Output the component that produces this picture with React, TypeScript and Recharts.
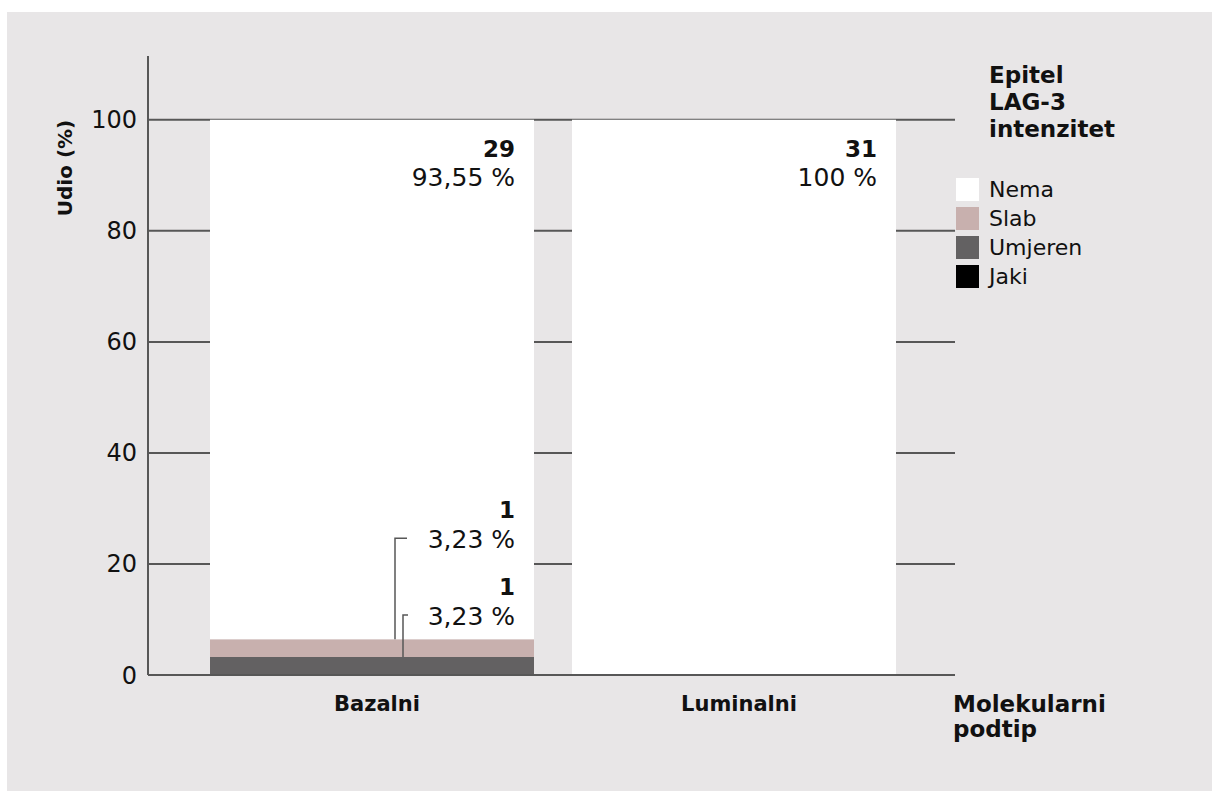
import React from 'react';
import { BarChart, Bar, XAxis, YAxis, CartesianGrid, LabelList } from 'recharts';

const categories = ['Bazalni', 'Luminalni'];
const jaki = [0, 0];
const umjeren = [3.23, 0];
const slab = [3.23, 0];
const nema = [93.55, 100];
const jakiCount = [0, 0];
const umjerenCount = [1, 0];
const slabCount = [1, 0];
const nemaCount = [29, 31];
const yTicks = [0, 20, 40, 60, 80, 100];
const legendTitle = ['Epitel', 'LAG-3', 'intenzitet'];
const xTitle = ['Molekularni', 'podtip'];
const seriesNames = ['Nema', 'Slab', 'Umjeren', 'Jaki'];
const seriesColors = ['#ffffff', '#c8b0ae', '#636162', '#000000'];

const data = categories.map((c, i) => ({
  name: c,
  Jaki: jaki[i],
  Umjeren: umjeren[i],
  Slab: slab[i],
  Nema: nema[i],
}));

const FONT = "'DejaVu Sans', sans-serif";
const INK = '#111111';
const AXIS = '#575757';

const fmtPct = (v: number) =>
  (Number.isInteger(v) ? String(v) : v.toFixed(2).replace('.', ',')) + ' %';

const NemaLabel = (props: any) => {
  const { x, y, width, index } = props;
  if (!nema[index]) return null;
  const rx = x + width - 19;
  return (
    <g>
      <text x={rx} y={y + 37} textAnchor="end" fontFamily={FONT} fontWeight={700} fontSize={23} fill={INK}>
        {nemaCount[index]}
      </text>
      <text x={rx} y={y + 66} textAnchor="end" fontFamily={FONT} fontSize={25} fill={INK}>
        {fmtPct(nema[index])}
      </text>
    </g>
  );
};

const SlabLabel = (props: any) => {
  const { x, y, width, index } = props;
  if (!slab[index]) return null;
  const rx = x + width - 19;
  const lx = x + 185;
  return (
    <g>
      <polyline points={`${lx},${y} ${lx},${y - 101} ${lx + 12},${y - 101}`} fill="none" stroke={AXIS} strokeWidth={1.5} />
      <text x={rx} y={y - 121} textAnchor="end" fontFamily={FONT} fontWeight={700} fontSize={23} fill={INK}>
        {slabCount[index]}
      </text>
      <text x={rx} y={y - 91} textAnchor="end" fontFamily={FONT} fontSize={25} fill={INK}>
        {fmtPct(slab[index])}
      </text>
    </g>
  );
};

const UmjerenLabel = (props: any) => {
  const { x, y, width, index } = props;
  if (!umjeren[index]) return null;
  const rx = x + width - 19;
  const lx = x + 193;
  return (
    <g>
      <polyline points={`${lx},${y} ${lx},${y - 42} ${lx + 5},${y - 42}`} fill="none" stroke={AXIS} strokeWidth={1.5} />
      <text x={rx} y={y - 62} textAnchor="end" fontFamily={FONT} fontWeight={700} fontSize={23} fill={INK}>
        {umjerenCount[index]}
      </text>
      <text x={rx} y={y - 32} textAnchor="end" fontFamily={FONT} fontSize={25} fill={INK}>
        {fmtPct(umjeren[index])}
      </text>
    </g>
  );
};

const JakiLabel = (props: any) => {
  const { x, y, width, index } = props;
  if (!jaki[index]) return null;
  return (
    <text x={x + width - 19} y={y - 10} textAnchor="end" fontFamily={FONT} fontSize={25} fill={INK}>
      {jakiCount[index]}
    </text>
  );
};

const LegendBox = () => (
  <div style={{ position: 'absolute', left: 956, top: 62, width: 250, fontFamily: FONT, color: INK }}>
    <div style={{ marginLeft: 33, fontWeight: 700, fontSize: 23, lineHeight: '27px' }}>
      {legendTitle.map((t) => (
        <div key={t}>{t}</div>
      ))}
    </div>
    <div style={{ marginTop: 32 }}>
      {seriesNames.map((n, i) => (
        <div key={n} style={{ display: 'flex', alignItems: 'center', height: 29 }}>
          <div style={{ width: 23, height: 23, background: seriesColors[i], marginRight: 10 }} />
          <span style={{ fontSize: 22, lineHeight: '29px' }}>{n}</span>
        </div>
      ))}
    </div>
  </div>
);

const XTick = (props: any) => {
  const { x, y, payload } = props;
  return (
    <text x={x + 5} y={y + 28} textAnchor="middle" fontFamily={FONT} fontWeight={700} fontSize={21} fill={INK}>
      {payload.value}
    </text>
  );
};

const XTitle = (props: any) => {
  const vb = props.viewBox || {};
  const x0 = vb.x + vb.width - 2;
  const y0 = vb.y;
  return (
    <g>
      {xTitle.map((t, i) => (
        <text key={t} x={x0} y={y0 + 37 + i * 25} fontFamily={FONT} fontWeight={700} fontSize={23} fill={INK}>
          {t}
        </text>
      ))}
    </g>
  );
};

const YTitle = (props: any) => {
  const vb = props.viewBox || {};
  const cx = vb.x - 23;
  const cy = vb.y + 112;
  return (
    <text
      x={cx}
      y={cy}
      transform={`rotate(-90, ${cx}, ${cy})`}
      textAnchor="middle"
      dominantBaseline="central"
      fontFamily={FONT}
      fontWeight={700}
      fontSize={20}
      fill={INK}
    >
      Udio (%)
    </text>
  );
};

export default function App() {
  return (
    <div style={{ position: 'absolute', left: 0, top: 0, width: 1212, height: 791, background: '#ffffff' }}>
      <div style={{ position: 'absolute', left: 7, top: 12, width: 1205, height: 779, background: '#e8e6e7' }} />
      <div style={{ position: 'absolute', left: 0, top: 0 }}>
        <BarChart
          width={1212}
          height={791}
          data={data}
          margin={{ top: 56, right: 257, bottom: 76, left: 88 }}
          barSize={324}
        >
          <CartesianGrid vertical={false} horizontalValues={yTicks} stroke={AXIS} strokeWidth={2} />
          <XAxis
            dataKey="name"
            padding={{ left: 43, right: 40 }}
            axisLine={{ stroke: AXIS, strokeWidth: 2 }}
            tickLine={false}
            tick={<XTick />}
            height={40}
            label={<XTitle />}
          />
          <YAxis
            domain={[0, 111.5]}
            ticks={yTicks}
            width={60}
            axisLine={{ stroke: AXIS, strokeWidth: 2 }}
            tickLine={false}
            tickSize={0}
            tickMargin={11}
            tick={{ fontFamily: FONT, fontSize: 24, fill: INK }}
            label={<YTitle />}
          />
          <Bar dataKey="Jaki" stackId="a" fill={seriesColors[3]} isAnimationActive={false}>
            <LabelList content={<JakiLabel />} />
          </Bar>
          <Bar dataKey="Umjeren" stackId="a" fill={seriesColors[2]} isAnimationActive={false}>
            <LabelList content={<UmjerenLabel />} />
          </Bar>
          <Bar dataKey="Slab" stackId="a" fill={seriesColors[1]} isAnimationActive={false}>
            <LabelList content={<SlabLabel />} />
          </Bar>
          <Bar dataKey="Nema" stackId="a" fill={seriesColors[0]} isAnimationActive={false}>
            <LabelList content={<NemaLabel />} />
          </Bar>
        </BarChart>
      </div>
      <LegendBox />
    </div>
  );
}
